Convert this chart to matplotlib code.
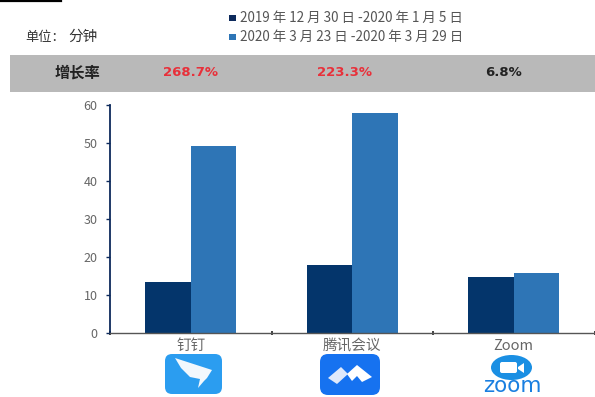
import matplotlib.pyplot as plt
from matplotlib.patches import FancyBboxPatch, Rectangle, Ellipse, Polygon
import numpy as np

plt.rcParams['font.family'] = ['Noto Sans CJK SC', 'DejaVu Sans']

# Data
categories = ["钉钉", "腾讯会议", "Zoom"]
series_names = ["2019 年 12 月 30 日 -2020 年 1 月 5 日", "2020 年 3 月 23 日 -2020 年 3 月 29 日"]
values_before = [13.5, 17.8, 14.7]
values_after = [49.3, 58.0, 15.7]
growth = ["268.7%", "223.3%", "6.8%"]
growth_colors = ["#e8303a", "#e8303a", "#222222"]
yticks = [0, 10, 20, 30, 40, 50, 60]

W, H = 595, 397
fig = plt.figure(figsize=(W / 100, H / 100), dpi=100)

# overlay in pixel coordinates for header band and logos
bg = fig.add_axes([0, 0, 1, 1], zorder=0)
bg.set_xlim(0, W)
bg.set_ylim(H, 0)
bg.axis("off")

bg.plot([0, 61], [0.8, 0.8], color="black", lw=1.6)
bg.add_patch(Rectangle((10, 55), 585, 37, color="#b9b9b9", lw=0))

bg.text(25, 37, "单位：", fontsize=9.5, color="#333333", va="center")
bg.text(68, 37, "分钟", fontsize=10.5, color="#333333", va="center")
bg.add_patch(Rectangle((229, 14.5), 7, 6, color="#0d2a5c", lw=0))
bg.add_patch(Rectangle((229, 33.5), 7, 6, color="#2e75b6", lw=0))
bg.text(240, 17.5, series_names[0], fontsize=9.7, color="#555555", va="center")
bg.text(240, 36.5, series_names[1], fontsize=9.7, color="#555555", va="center")

bg.text(77, 73, "增长率", fontsize=11, color="#222222", va="center", ha="center", fontweight="bold")
for xp, g, c in zip([190, 344, 504], growth, growth_colors):
    bg.text(xp, 73, g, fontsize=9.5, color=c, va="center", ha="center", fontweight="bold",
            family="DejaVu Sans")

# Chart
ax = fig.add_axes([110 / W, 1 - 332.8 / H, 484.5 / W, 227.8 / H], zorder=1)
ax.patch.set_alpha(0)
x = np.arange(len(categories))
width = 0.282
ax.bar(x - width / 2, values_before, width, color="#04356b")
ax.bar(x + width / 2, values_after, width, color="#2e75b6")

ax.set_xlim(-0.5, 2.5)
ax.set_ylim(0, 60)
ax.set_yticks(yticks)
ax.set_xticks([-0.5, 0.5, 1.5, 2.5])
ax.set_xticklabels([])
ax.tick_params(axis="y", labelsize=9, labelcolor="#666666", length=3, width=1,
               color="#0d2a5c", direction="out", pad=6)
ax.tick_params(axis="x", length=2.5, width=1.2, color="#222222", direction="inout")
for s in ["top", "right"]:
    ax.spines[s].set_visible(False)
ax.spines["left"].set_color("#0d2a5c")
ax.spines["left"].set_linewidth(1.3)
ax.spines["bottom"].set_color("#555555")
ax.spines["bottom"].set_linewidth(1.0)
for i, c in enumerate(categories):
    ax.annotate(c, (i, 0), xytext=(0, -9.5), textcoords="offset points", ha="center", va="center",
                fontsize=10.5, color="#666666", annotation_clip=False)

# Logos
fg = fig.add_axes([0, 0, 1, 1], zorder=2)
fg.set_xlim(0, W)
fg.set_ylim(H, 0)
fg.axis("off")
fg.patch.set_alpha(0)

# dingtalk
fg.add_patch(FancyBboxPatch((167, 356), 53, 36, boxstyle="round,pad=2,rounding_size=7", color="#2b9df0", lw=0))
fg.add_patch(Polygon([(175, 358), (212, 370), (207, 378), (204, 381), (198, 388), (200, 379), (190, 377), (181, 368)],
                     color="#f2f8fd", lw=0))
# tencent meeting
fg.add_patch(FancyBboxPatch((322, 356), 56, 37, boxstyle="round,pad=2,rounding_size=8", color="#1672f0", lw=0))
fg.add_patch(Polygon([(328, 378), (341, 367), (348, 374), (337, 384)], color="#dfe9fb", lw=0))
fg.add_patch(Polygon([(347, 374), (357, 365), (372, 377), (362, 382), (357, 376), (352, 381)], color="#ffffff", lw=0))
# zoom
fg.add_patch(Ellipse((511.5, 367.5), 41, 25, color="#1a8fe3", lw=0))
fg.add_patch(FancyBboxPatch((500, 362), 17, 11, boxstyle="round,pad=0,rounding_size=2", color="white", lw=0))
fg.add_patch(Polygon([(518, 367), (524, 363), (524, 373), (518, 369)], color="white", lw=0))
fg.text(512.5, 386, "zoom", fontsize=15.5, color="#1a7fe0", ha="center", va="center", family="DejaVu Sans")

fig.savefig("out.png", dpi=100)
